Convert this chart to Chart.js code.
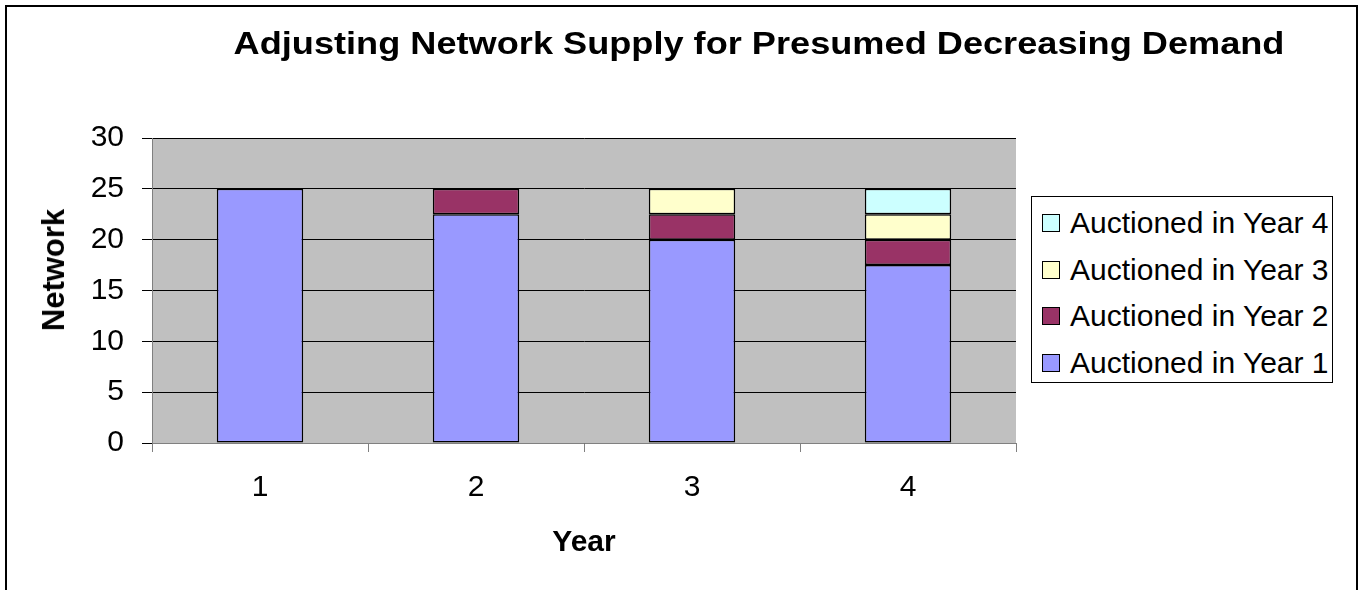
<!DOCTYPE html>
<html>
<head>
<meta charset="utf-8">
<script src="https://cdn.jsdelivr.net/npm/chart.js@4/dist/chart.umd.min.js"></script>
<style>
  html, body { margin: 0; padding: 0; background: #fff; overflow: hidden; }
  body { width: 1359px; height: 590px; position: relative; font-family: 'Liberation Sans', Arial, sans-serif; }
  #frame { position: absolute; left: 5px; top: 5px; width: 1353px; height: 620px; box-sizing: border-box; border: 2px solid #000; pointer-events: none; }
  #wrap { position: absolute; left: 0; top: 0; width: 1359px; height: 590px; }
  #title { position: absolute; left: 0; top: 25px; width: 1518px; text-align: center; font: bold 32px/36px 'Liberation Sans', Arial, sans-serif; color: #000; white-space: nowrap; transform: scaleX(1.13); transform-origin: 759px 18px; }
  #ytitle { position: absolute; left: 54px; top: 270px; width: 0; height: 0; }
  #ytitle span { position: absolute; left: 0; top: 0; transform: translate(-50%, -50%) rotate(-90deg); font: bold 31px/36px 'Liberation Sans', Arial, sans-serif; color: #000; white-space: nowrap; }
  #legend { position: absolute; left: 1031px; top: 196px; width: 302px; height: 187px; box-sizing: border-box; border: 1px solid #000; background: #fff; }
  .item { position: absolute; left: 10px; height: 36px; font: 30px/36px 'Liberation Sans', Arial, sans-serif; color: #000; white-space: nowrap; }
  .swatch { position: absolute; left: 0; top: 9px; width: 18px; height: 18px; box-sizing: border-box; border: 1px solid #000; }
  .label { position: absolute; left: 28px; top: 0; }
</style>
</head>
<body>
<div id="wrap"><canvas id="c" width="1359" height="590"></canvas></div>
<div id="title">Adjusting Network Supply for Presumed Decreasing Demand</div>
<div id="ytitle"><span>Network</span></div>
<div id="legend"></div>
<div id="frame"></div>
<script>
// ---- data ----
const years = ['1', '2', '3', '4'];
const seriesNames = ['Auctioned in Year 1', 'Auctioned in Year 2', 'Auctioned in Year 3', 'Auctioned in Year 4'];
const auctionedYear1 = [25, 22.5, 20, 17.5];
const auctionedYear2 = [null, 2.5, 2.5, 2.5];
const auctionedYear3 = [null, null, 2.5, 2.5];
const auctionedYear4 = [null, null, null, 2.5];
const yTicks = [0, 5, 10, 15, 20, 25, 30];
const seriesColors = ['#9999FF', '#993366', '#FFFFCC', '#CCFFFF'];

const seriesValues = [auctionedYear1, auctionedYear2, auctionedYear3, auctionedYear4];
const FONT = "'Liberation Sans', Arial, sans-serif";

const plotBg = {
  id: 'plotBg',
  beforeDraw(chart) {
    const a = chart.chartArea, ctx = chart.ctx;
    ctx.save();
    ctx.fillStyle = '#C0C0C0';
    ctx.fillRect(a.left, a.top, a.right - a.left, a.bottom - a.top);
    ctx.restore();
  }
};

const chart = new Chart(document.getElementById('c'), {
  type: 'bar',
  data: {
    labels: years,
    datasets: seriesValues.map((vals, i) => ({
      label: seriesNames[i],
      data: vals,
      backgroundColor: seriesColors[i],
      borderColor: '#000',
      borderWidth: 1.5,
      borderSkipped: false,
      barPercentage: 0.4,
      categoryPercentage: 1.0
    }))
  },
  options: {
    responsive: false,
    animation: false,
    devicePixelRatio: 1,
    layout: { padding: { left: 37, top: 138, right: 343, bottom: 29 } },
    plugins: { legend: { display: false }, title: { display: false }, tooltip: { enabled: false } },
    scales: {
      x: {
        stacked: true,
        grid: { drawOnChartArea: false, drawTicks: true, tickLength: 9, color: '#808080', offset: true },
        border: { display: true, color: '#808080', width: 1 },
        ticks: { color: '#000', font: { family: FONT, size: 30 }, padding: 18, maxRotation: 0 },
        title: { display: true, text: 'Year', color: '#000', font: { family: FONT, size: 30, weight: 'bold' }, padding: 0 },
        afterFit(s) { s.height = 118; }
      },
      y: {
        stacked: true,
        min: 0, max: 30,
        afterBuildTicks(s) { s.ticks = yTicks.map(v => ({ value: v })); },
        grid: { color: '#000', lineWidth: 1, tickLength: 10, drawTicks: true },
        border: { display: true, color: '#808080', width: 1 },
        ticks: { color: '#000', font: { family: FONT, size: 30 }, padding: 18 },
        title: { display: false },
        afterFit(s) { s.width = 115; }
      }
    }
  },
  plugins: [plotBg]
});

// HTML legend built from the datasets (reverse order, as in the reference)
const legend = document.getElementById('legend');
chart.data.datasets.slice().reverse().forEach((ds, k) => {
  const item = document.createElement('div');
  item.className = 'item';
  item.style.top = (8 + k * 46.7) + 'px';
  const sw = document.createElement('div');
  sw.className = 'swatch';
  sw.style.background = ds.backgroundColor;
  const lb = document.createElement('div');
  lb.className = 'label';
  lb.textContent = ds.label;
  item.appendChild(sw); item.appendChild(lb);
  legend.appendChild(item);
});
</script>
</body>
</html>
